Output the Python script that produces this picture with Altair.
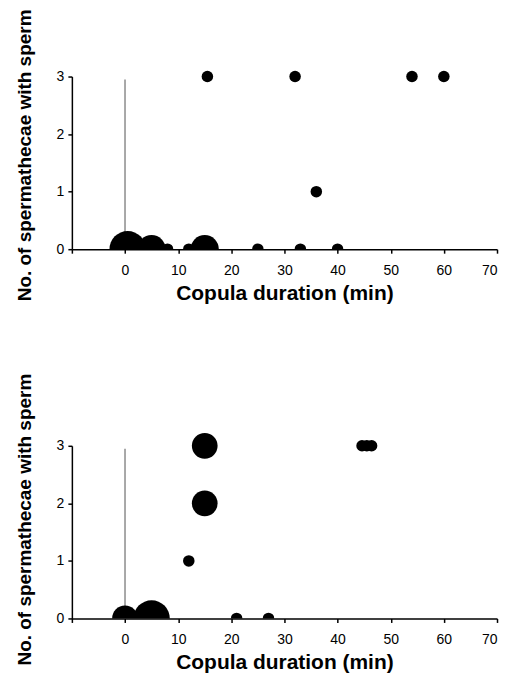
import altair as alt
import pandas as pd

# Top panel
top_x = [0.5, 5, 8, 12, 15, 25, 33, 40, 15.5, 32, 54, 60, 36]
top_y = [0, 0, 0, 0, 0, 0, 0, 0, 3, 3, 3, 3, 1]
top_n = [10, 6, 1, 1, 6, 1, 1, 1, 1, 1, 1, 1, 1]

# Bottom panel
bot_x = [0, 5, 21, 27, 12, 15, 15, 44.6, 45.5, 46.4]
bot_y = [0, 0, 0, 0, 1, 2, 3, 3, 3, 3]
bot_n = [5, 10, 1, 1, 1, 5, 5, 1, 1, 1]

x_ticks = [-10, -5, 0, 5, 10, 15, 20, 25, 30, 35, 40, 45, 50, 55, 60, 65, 70]
y_ticks = [0, 1, 2, 3]
ref_line = {"x": [0], "y": [0], "y2": [2.95]}

W, H = 426, 173
FONT = "Liberation Sans"


def panel(xs, ys, ns, title_shift):
    df = pd.DataFrame({"x": xs, "y": ys, "n": ns})
    xenc = alt.X(
        "x:Q",
        scale=alt.Scale(domain=[-10, 70], nice=False, zero=False),
        axis=alt.Axis(
            values=x_ticks,
            labelExpr="(datum.value < 0 || datum.value % 10 != 0) ? '' : datum.label",
            title="Copula duration (min)",
            labelPadding=10,
            titlePadding=5,
            titleFontSize=21,
            zindex=1,
        ),
    )
    yenc = alt.Y(
        "y:Q",
        scale=alt.Scale(domain=[0, 3], nice=False),
        axis=alt.Axis(
            values=y_ticks,
            format="d",
            title="No. of spermathecae with sperm",
            labelPadding=4,
            titlePadding=22,
            titleFontSize=19,
            titleY=H / 2 - title_shift,
            zindex=1,
        ),
    )
    size = alt.Size(
        "n:Q", scale=alt.Scale(domain=[0, 10], range=[0, 1330]), legend=None
    )
    rule = (
        alt.Chart(pd.DataFrame(ref_line))
        .mark_rule(color="#8c8c8c", strokeWidth=1.5)
        .encode(x="x:Q", y="y:Q", y2="y2:Q")
    )
    pts = (
        alt.Chart(df)
        .mark_circle(color="black", opacity=1)
        .encode(x=xenc, y=yenc, size=size)
    )
    # white band under the baseline so baseline bubbles show as half discs
    mask = (
        alt.Chart(pd.DataFrame({"a": [0]}))
        .mark_rect(color="white", opacity=1)
        .encode(
            x=alt.datum(-10),
            x2=alt.datum(70),
            y=alt.datum(0),
            y2=alt.datum(-0.45),
        )
    )
    return alt.layer(rule, pts, mask).properties(width=W, height=H)


chart = (
    alt.vconcat(
        panel(top_x, top_y, top_n, 8),
        panel(bot_x, bot_y, bot_n, 13),
        spacing=70,
    )
    .properties(background="white", padding={"left": 7, "top": 0, "right": 5, "bottom": 5})
    .configure_view(stroke=None)
    .configure_axis(
        grid=False,
        domainColor="black",
        domainWidth=1.5,
        tickColor="black",
        tickWidth=1.5,
        tickSize=4,
        labelFont=FONT,
        labelFontSize=14,
        labelColor="black",
        titleFont=FONT,
        titleFontWeight="bold",
        titleColor="black",
    )
)

chart.save("out.html", embed_options={"renderer": "svg", "actions": False})
